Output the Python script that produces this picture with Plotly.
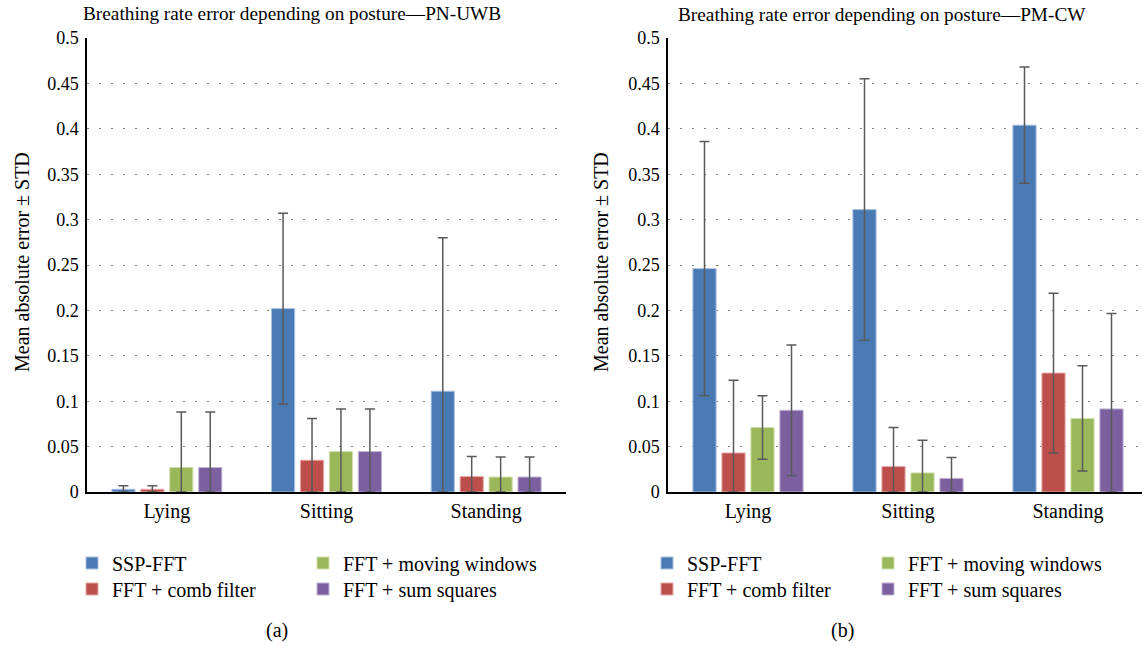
import plotly.graph_objects as go

W, H = 1142, 646
postures = ["Lying", "Sitting", "Standing"]
methods = ["SSP-FFT", "FFT + comb filter", "FFT + moving windows", "FFT + sum squares"]
colors = ["#4A7AB4", "#BC4E4C", "#9AB85A", "#7B5F9E"]
edge_colors = ["#A9C0DE", "#E3A9A8", "#CFE0AE", "#C2B3D6"]

# Panel (a) PN-UWB : mean absolute error and STD
uwb_mean = {
    "SSP-FFT": [0.003, 0.202, 0.111],
    "FFT + comb filter": [0.003, 0.035, 0.017],
    "FFT + moving windows": [0.027, 0.0445, 0.0165],
    "FFT + sum squares": [0.027, 0.0445, 0.0165],
}
uwb_std = {
    "SSP-FFT": [0.004, 0.105, 0.169],
    "FFT + comb filter": [0.004, 0.046, 0.022],
    "FFT + moving windows": [0.061, 0.047, 0.022],
    "FFT + sum squares": [0.061, 0.047, 0.022],
}
# Panel (b) PM-CW
cw_mean = {
    "SSP-FFT": [0.246, 0.311, 0.404],
    "FFT + comb filter": [0.043, 0.028, 0.131],
    "FFT + moving windows": [0.071, 0.021, 0.081],
    "FFT + sum squares": [0.090, 0.015, 0.0915],
}
cw_std = {
    "SSP-FFT": [0.140, 0.144, 0.064],
    "FFT + comb filter": [0.080, 0.043, 0.088],
    "FFT + moving windows": [0.035, 0.036, 0.058],
    "FFT + sum squares": [0.072, 0.023, 0.105],
}
y_ticks = [0, 0.05, 0.1, 0.15, 0.2, 0.25, 0.3, 0.35, 0.4, 0.45, 0.5]
y_tick_text = ["0", "0.05", "0.1", "0.15", "0.2", "0.25", "0.3", "0.35", "0.4", "0.45", "0.5"]

FONT = "Liberation Serif"
fig = go.Figure()

# legend placement (pixel positions of the symbol centre)
leg_x = {"a": [92, 92, 323, 323], "b": [667, 667, 888, 888]}
leg_y = [563, 589, 563, 589]

legend_layout = {}
n = 0
for panel, means, stds, xa, ya in [("a", uwb_mean, uwb_std, "x", "y"), ("b", cw_mean, cw_std, "x2", "y2")]:
    for i, m in enumerate(methods):
        n += 1
        lname = "legend" if n == 1 else f"legend{n}"
        mv = means[m]
        sv = stds[m]
        minus = [min(s, v) for s, v in zip(sv, mv)]
        fig.add_trace(go.Bar(
            x=postures, y=mv, name=m,
            marker=dict(color=colors[i], line=dict(color=edge_colors[i], width=1)),
            error_y=dict(type="data", array=sv, arrayminus=minus, symmetric=False,
                         color="#5A5A5A", thickness=1.5, width=5),
            xaxis=xa, yaxis=ya, legend=lname,
        ))
        legend_layout[lname] = dict(
            x=(leg_x[panel][i] - 20) / W, y=1 - leg_y[i] / H,
            xanchor="left", yanchor="middle", orientation="v",
            bgcolor="rgba(0,0,0,0)", borderwidth=0,
            font=dict(family=FONT, size=20, color="black"),
            itemclick=False, itemdoubleclick=False,
        )

ydom = [154 / H, 608 / H]
xcommon = dict(showgrid=False, showline=True, linecolor="black", linewidth=1.5,
               ticks="", automargin=False, zeroline=False,
               tickfont=dict(family=FONT, size=20, color="black"))
ycommon = dict(domain=ydom, range=[0, 0.5], tickvals=y_ticks, ticktext=y_tick_text,
               showline=True, linecolor="black", linewidth=1.5, ticks="",
               ticklabelstandoff=3, automargin=False,
               tickfont=dict(family=FONT, size=18, color="black"),
               showgrid=True, gridcolor="#7F7F7F", gridwidth=1, griddash="2px,10px",
               zeroline=False)
fig.update_layout(
    width=W, height=H,
    margin=dict(l=0, r=0, t=0, b=0, autoexpand=False),
    paper_bgcolor="white", plot_bgcolor="white",
    font=dict(family=FONT, size=18, color="black"),
    barmode="group", bargap=0.275, bargroupgap=0.2,
    showlegend=True,
    xaxis=dict(domain=[87 / W, 566 / W], range=[-0.5, 2.5], anchor="y", **xcommon),
    xaxis2=dict(domain=[668 / W, 1.0], range=[-0.5, 2.4625], anchor="y2", **xcommon),
    yaxis=dict(anchor="x", **ycommon),
    yaxis2=dict(anchor="x2", **ycommon),
    **legend_layout,
)

ann = dict(xref="paper", yref="paper", showarrow=False, xanchor="center", yanchor="middle")
fig.add_annotation(text="Breathing rate error depending on posture—PN-UWB", x=292 / W, y=1 - 13 / H,
                   font=dict(family=FONT, size=19.3), **ann)
fig.add_annotation(text="Breathing rate error depending on posture—PM-CW", x=882 / W, y=1 - 14 / H,
                   font=dict(family=FONT, size=19.3), **ann)
fig.add_annotation(text="Mean absolute error ± STD", x=22 / W, y=1 - 262 / H, textangle=-90,
                   font=dict(family=FONT, size=20), **ann)
fig.add_annotation(text="Mean absolute error ± STD", x=601 / W, y=1 - 262 / H, textangle=-90,
                   font=dict(family=FONT, size=20), **ann)
fig.add_annotation(text="(a)", x=277 / W, y=1 - 630 / H, font=dict(family=FONT, size=20), **ann)
fig.add_annotation(text="(b)", x=843 / W, y=1 - 630 / H, font=dict(family=FONT, size=20), **ann)

fig.write_html("out.html", config={"displayModeBar": False},
               post_script="document.body.style.margin='0';document.body.style.padding='0';")
